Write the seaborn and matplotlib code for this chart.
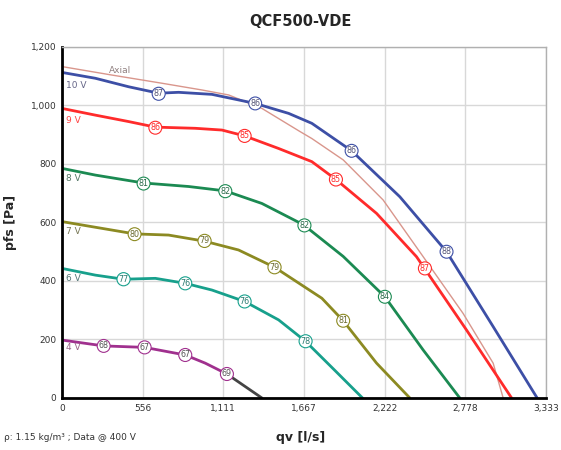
import matplotlib
matplotlib.use("Agg")
import matplotlib.pyplot as plt
import seaborn as sns
import pandas as pd
from matplotlib.ticker import FuncFormatter

# ---- data ----
q_10v = [0, 230, 459, 666, 803, 1033, 1331, 1561, 1721, 1995, 2327, 2649, 2970, 3273]
p_10v = [1113, 1093, 1064, 1042, 1045, 1038, 1007, 973, 939, 845, 688, 500, 244, 0]
q_9v = [0, 230, 459, 643, 918, 1102, 1258, 1492, 1721, 1887, 2167, 2442, 2787, 3097]
p_9v = [990, 967, 945, 926, 922, 916, 896, 853, 808, 747, 631, 483, 232, 0]
q_ax = [0, 344, 689, 964, 1148, 1377, 1639, 1721, 1937, 2212, 2488, 2763, 2970, 3039]
p_ax = [1133, 1104, 1076, 1053, 1036, 990, 911, 887, 814, 677, 483, 289, 119, 0]
q_8v = [0, 230, 562, 872, 1125, 1377, 1664, 1937, 2224, 2488, 2740]
p_8v = [785, 762, 735, 723, 708, 665, 592, 484, 346, 164, 0]
q_7v = [0, 500, 734, 982, 1216, 1464, 1790, 1937, 2167, 2396]
p_7v = [603, 561, 557, 536, 506, 447, 341, 264, 119, 0]
q_6v = [0, 230, 424, 643, 849, 1033, 1258, 1492, 1677, 1868, 2070]
p_6v = [443, 420, 406, 409, 392, 369, 330, 267, 194, 100, 0]
q_4v = [0, 287, 569, 849, 987, 1136]
p_4v = [198, 178, 173, 147, 119, 82]
q_4v_tail = [1136, 1377]
p_4v_tail = [82, 0]

# efficiency labels on curves
lab_10v = [(666, 1040, "87"), (1331, 1007, "86"), (1995, 845, "86"), (2649, 500, "88")]
lab_9v = [(643, 924, "86"), (1258, 896, "85"), (1887, 747, "85"), (2500, 443, "87")]
lab_8v = [(562, 733, "81"), (1125, 707, "82"), (1670, 590, "82"), (2224, 346, "84")]
lab_7v = [(500, 560, "80"), (982, 537, "79"), (1464, 447, "79"), (1937, 264, "81")]
lab_6v = [(424, 406, "77"), (849, 392, "76"), (1258, 330, "76"), (1678, 194, "78")]
lab_4v = [(287, 178, "68"), (569, 173, "67"), (849, 147, "67"), (1136, 82, "69")]

xticks = [0, 556, 1111, 1667, 2222, 2778, 3333]
xticklabels = ["0", "556", "1,111", "1,667", "2,222", "2,778", "3,333"]
yticks = [0, 200, 400, 600, 800, 1000, 1200]

sns.set_style("white")
plt.rcParams['font.family'] = ['DejaVu Sans']

fig = plt.figure(figsize=(5.61, 4.5), dpi=100)
ax = fig.add_axes([0.1105, 0.1156, 0.8625, 0.78])

series = [
    (q_ax, p_ax, "#d9968c", 1.0),
    (q_10v, p_10v, "#3d4fa6", 2.0),
    (q_9v, p_9v, "#ff2b2b", 2.0),
    (q_8v, p_8v, "#1b8a52", 2.0),
    (q_7v, p_7v, "#8c8a22", 2.0),
    (q_6v, p_6v, "#17a08c", 2.0),
    (q_4v, p_4v, "#a0308e", 2.0),
    (q_4v_tail, p_4v_tail, "#444444", 2.0),
]
for q, p, c, lw in series:
    df = pd.DataFrame({"q": q, "p": p})
    sns.lineplot(data=df, x="q", y="p", ax=ax, color=c, lw=lw, sort=False, estimator=None,
                 solid_joinstyle="round", solid_capstyle="round")

labels = [
    (lab_10v, "#3d4fa6", "#555577"),
    (lab_9v, "#ff2b2b", "#ff2b2b"),
    (lab_8v, "#1b8a52", "#2a6a4a"),
    (lab_7v, "#8c8a22", "#6a6a30"),
    (lab_6v, "#17a08c", "#2a7a70"),
    (lab_4v, "#a0308e", "#555555"),
]
for labs, ec, tc in labels:
    for x, y, t in labs:
        ax.text(x, y, t, fontsize=5.8, color=tc, ha="center", va="center", zorder=5,
                bbox=dict(boxstyle="circle,pad=0.18", fc="white", ec=ec, lw=0.8))

vlabels = [(28, 1070, "10 V", "#666688"), (28, 950, "9 V", "#ff4444"), (28, 752, "8 V", "#557766"),
           (28, 569, "7 V", "#777755"), (28, 407, "6 V", "#557777"), (28, 171, "4 V", "#996688")]
for x, y, t, c in vlabels:
    ax.text(x, y, t, fontsize=6.5, color=c, ha="left", va="center")
ax.text(400, 1118, "Axial", fontsize=6.5, color="#908080", ha="center", va="center")

ax.set_xlim(0, 3333)
ax.set_ylim(0, 1200)
ax.set_xticks(xticks)
ax.set_xticklabels(xticklabels)
ax.set_yticks(yticks)
ax.yaxis.set_major_formatter(FuncFormatter(lambda v, _: f"{int(v):,}"))
ax.tick_params(axis="both", labelsize=6.5, colors="#333333", length=0, pad=4)
ax.grid(True, color="#d8d8d8", lw=1.0)
ax.set_axisbelow(True)
for s in ["top", "right"]:
    ax.spines[s].set_color("#b0b0b0")
    ax.spines[s].set_linewidth(1.0)
for s in ["left", "bottom"]:
    ax.spines[s].set_color("black")
    ax.spines[s].set_linewidth(2.0)

ax.set_xlabel("")
ax.set_ylabel("pfs [Pa]", fontsize=9, fontweight="bold", labelpad=10)
fig.text(0.535, 0.952, "QCF500-VDE", fontsize=10.5, fontweight="bold", ha="center", va="center")
fig.text(0.535, 0.027, "qv [l/s]", fontsize=9, fontweight="bold", ha="center", va="center")
fig.text(0.008, 0.027, "ρ: 1.15 kg/m³ ; Data @ 400 V", fontsize=6.5, ha="left", va="center", color="#333333")

fig.savefig("out.png", dpi=100)
